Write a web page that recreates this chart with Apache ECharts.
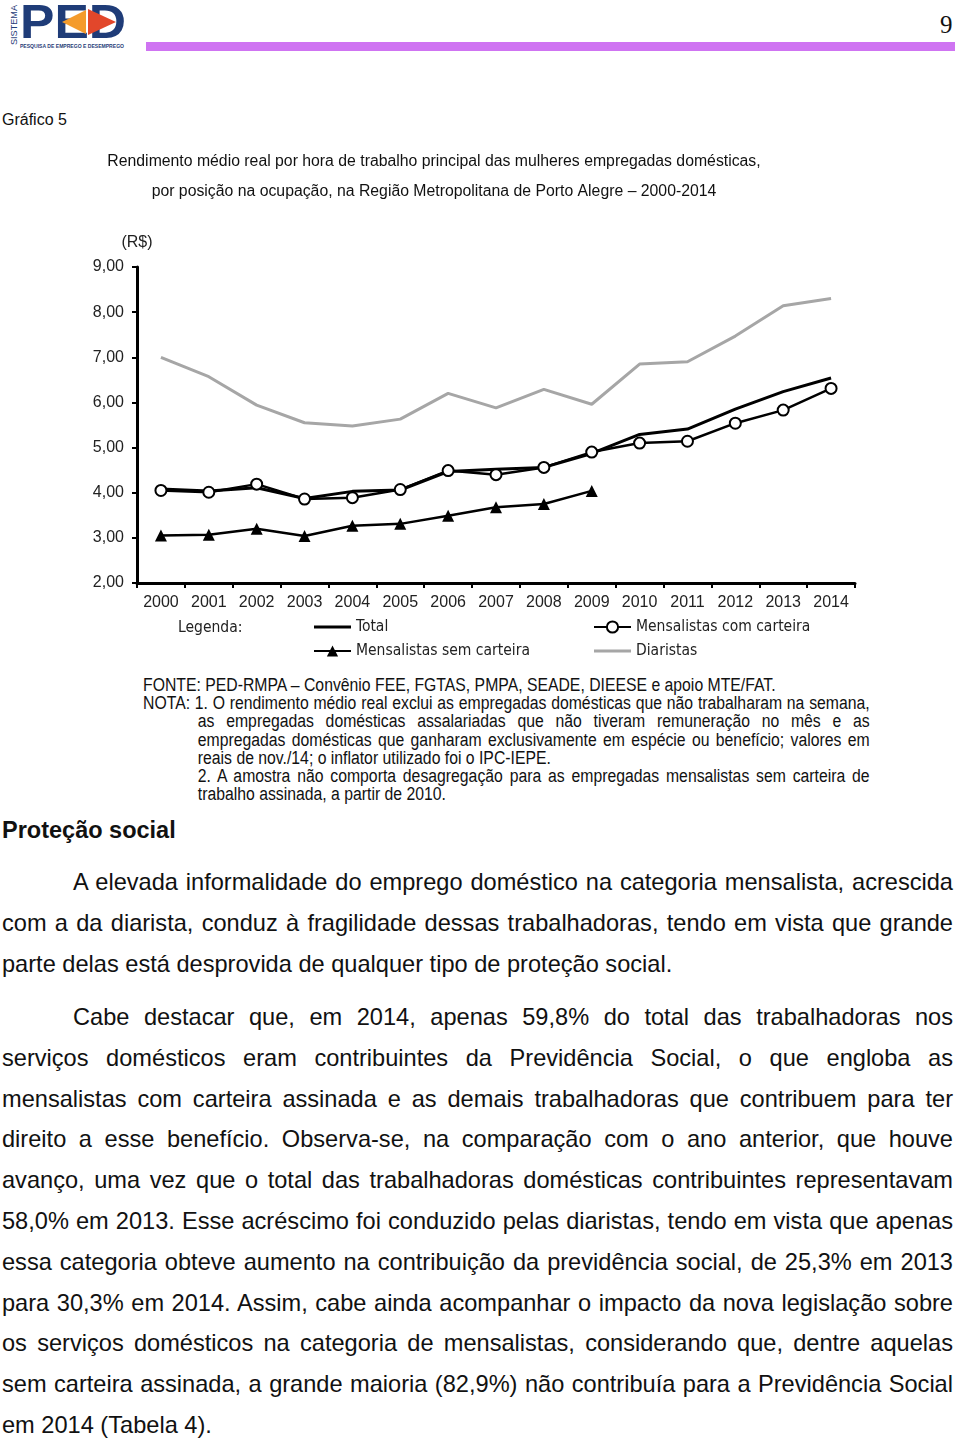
<!DOCTYPE html>
<html>
<head>
<meta charset="utf-8">
<script src="https://cdn.jsdelivr.net/npm/echarts@6/dist/echarts.min.js"></script>
<style>
  html, body { margin: 0; padding: 0; background: #fff; }
  body { width: 960px; height: 1442px; position: relative; overflow: hidden; font-family: 'Liberation Sans', Arial, sans-serif; color: #111; }
  #chart { position: absolute; left: 0; top: 0; width: 960px; height: 670px; }
  .abs { position: absolute; }
  .notes { left: 143px; top: 676px; width: 822px; font-size: 17.85px; line-height: 18.2px; color: #111;
           transform: scaleX(0.884); transform-origin: 0 0; font-family: 'Liberation Sans', Arial, sans-serif; }
  .notes div { white-space: nowrap; }
  .notes .j { text-align: justify; text-align-last: justify; }
  .notes .ind { padding-left: 62px; }
  .body { left: 2px; width: 951px; font-size: 23.6px; line-height: 40.8px; color: #111; }
  .body div { white-space: nowrap; }
  .body .j { text-align: justify; text-align-last: justify; }
  .body .ind { text-indent: 71px; }
</style>
</head>
<body>
<svg class="abs" style="left:0;top:0" width="960" height="60">
  <text x="0" y="0" transform="translate(17,45) rotate(-90)" font-family="Liberation Sans, Arial" font-size="8.5" fill="#1f3c78" textLength="40" lengthAdjust="spacingAndGlyphs">SISTEMA</text>
  <text x="20" y="38" font-family="Liberation Sans, Arial" font-weight="bold" font-size="48" fill="#1f3c78" textLength="106" lengthAdjust="spacingAndGlyphs">PED</text>
  <polygon points="62,22 86,10 86,34" fill="#f49b2c"/>
  <polygon points="88,9 116,22 88,35" fill="#e2472b"/>
  <text x="20" y="47.5" font-family="Liberation Sans, Arial" font-weight="bold" font-size="6" fill="#1f3c78" textLength="104" lengthAdjust="spacingAndGlyphs">PESQUISA DE EMPREGO E DESEMPREGO</text>
  <rect x="146" y="42" width="809" height="9" fill="#cf74f2"/>
  <text x="940" y="33" font-family="Liberation Serif, DejaVu Serif, serif" font-size="25" fill="#111">9</text>
</svg>

<div class="abs" style="left:2px;top:111px;font-size:16px;">Gráfico 5</div>

<div id="chart"></div>

<div class="abs notes">
  <div>FONTE: PED-RMPA – Convênio FEE, FGTAS, PMPA, SEADE, DIEESE e apoio MTE/FAT.</div>
  <div class="j">NOTA: 1. O rendimento médio real exclui as empregadas domésticas que não trabalharam na semana,</div>
  <div class="j ind">as empregadas domésticas assalariadas que não tiveram remuneração no mês e as</div>
  <div class="j ind">empregadas domésticas que ganharam exclusivamente em espécie ou benefício; valores em</div>
  <div class="ind">reais de nov./14; o inflator utilizado foi o IPC-IEPE.</div>
  <div class="j ind">2. A amostra não comporta desagregação para as empregadas mensalistas sem carteira de</div>
  <div class="ind">trabalho assinada, a partir de 2010.</div>
</div>

<div class="abs" style="left:2px;top:817px;font-size:23.5px;font-weight:bold;">Proteção social</div>

<div class="abs body" style="top:862px;">
  <div class="j ind">A elevada informalidade do emprego doméstico na categoria mensalista, acrescida</div>
  <div class="j">com a da diarista, conduz à fragilidade dessas trabalhadoras, tendo em vista que grande</div>
  <div>parte delas está desprovida de qualquer tipo de proteção social.</div>
</div>

<div class="abs body" style="top:997px;">
  <div class="j ind">Cabe destacar que, em 2014, apenas 59,8% do total das trabalhadoras nos</div>
  <div class="j">serviços domésticos eram contribuintes da Previdência Social, o que engloba as</div>
  <div class="j">mensalistas com carteira assinada e as demais trabalhadoras que contribuem para ter</div>
  <div class="j">direito a esse benefício. Observa-se, na comparação com o ano anterior, que houve</div>
  <div class="j">avanço, uma vez que o total das trabalhadoras domésticas contribuintes representavam</div>
  <div class="j">58,0% em 2013. Esse acréscimo foi conduzido pelas diaristas, tendo em vista que apenas</div>
  <div class="j">essa categoria obteve aumento na contribuição da previdência social, de 25,3% em 2013</div>
  <div class="j">para 30,3% em 2014. Assim, cabe ainda acompanhar o impacto da nova legislação sobre</div>
  <div class="j">os serviços domésticos na categoria de mensalistas, considerando que, dentre aquelas</div>
  <div class="j">sem carteira assinada, a grande maioria (82,9%) não contribuía para a Previdência Social</div>
  <div>em 2014 (Tabela 4).</div>
</div>

<script>
// ---- data ----
var years = ['2000','2001','2002','2003','2004','2005','2006','2007','2008','2009','2010','2011','2012','2013','2014'];
var total = [4.08, 4.04, 4.11, 3.87, 4.03, 4.06, 4.47, 4.52, 4.56, 4.87, 5.29, 5.41, 5.85, 6.24, 6.54];
var mensalistasComCarteira = [4.05, 4.01, 4.19, 3.86, 3.89, 4.07, 4.49, 4.40, 4.56, 4.90, 5.10, 5.14, 5.54, 5.83, 6.31];
var mensalistasSemCarteira = [3.05, 3.07, 3.20, 3.04, 3.27, 3.31, 3.49, 3.68, 3.75, 4.04, null, null, null, null, null];
var diaristas = [7.00, 6.57, 5.94, 5.55, 5.48, 5.63, 6.20, 5.88, 6.29, 5.96, 6.85, 6.90, 7.47, 8.14, 8.30];
var seriesNames = ['Total', 'Mensalistas com carteira', 'Mensalistas sem carteira', 'Diaristas'];
var titleLines = [
  'Rendimento médio real por hora de trabalho principal das mulheres empregadas domésticas,',
  'por posição na ocupação, na Região Metropolitana de Porto Alegre – 2000-2014'
];
var yUnit = '(R$)';

var chart = echarts.init(document.getElementById('chart'), null, { renderer: 'canvas' });
var FONT = "'Liberation Sans', Arial, sans-serif";
var NARROW = "'DejaVu Sans Condensed', 'Liberation Sans Narrow', sans-serif";
var LINE_ICON = 'path://M0,0 M0,5.5 L40,5.5 L40,8.5 L0,8.5 Z M40,14';

var option = {
  animation: false,
  backgroundColor: 'transparent',
  graphic: [
    { type: 'text', x: 434, y: 154, style: { text: titleLines[0], font: '15.8px ' + FONT, fill: '#111', textAlign: 'center' } },
    { type: 'text', x: 434, y: 184, style: { text: titleLines[1], font: '15.8px ' + FONT, fill: '#111', textAlign: 'center' } },
    { type: 'text', x: 178, y: 620, style: { text: 'Legenda:', font: '15.5px ' + NARROW, fill: '#222' } }
  ],
  grid: { left: 137, top: 267, width: 718, height: 316, containLabel: false },
  legend: [
    {
      orient: 'vertical', left: 313, top: 619, padding: 0, itemGap: 8, itemWidth: 37, itemHeight: 14,
      data: [{ name: seriesNames[0], icon: LINE_ICON }, seriesNames[2]],
      textStyle: { fontFamily: NARROW, fontSize: 15.5, color: '#222' }
    },
    {
      orient: 'vertical', left: 593, top: 619, padding: 0, itemGap: 8, itemWidth: 37, itemHeight: 14,
      data: [seriesNames[1], { name: seriesNames[3], icon: LINE_ICON }],
      textStyle: { fontFamily: NARROW, fontSize: 15.5, color: '#222' }
    }
  ],
  xAxis: {
    type: 'category', data: years, boundaryGap: true,
    axisLine: { lineStyle: { color: '#000', width: 3 } },
    axisTick: { show: true, interval: 0, length: 5, lineStyle: { color: '#000', width: 2 } },
    axisLabel: { interval: 0, margin: 12, fontFamily: FONT, fontSize: 16, color: '#222' },
    splitLine: { show: false }
  },
  yAxis: {
    type: 'value', min: 2, max: 9, interval: 1,
    name: yUnit, nameLocation: 'end', nameGap: 16,
    nameTextStyle: { fontFamily: FONT, fontSize: 16, color: '#222', align: 'center' },
    axisLine: { show: true, lineStyle: { color: '#000', width: 3 } },
    axisTick: { show: true, length: 5, lineStyle: { color: '#000', width: 2 } },
    axisLabel: { margin: 13, fontFamily: FONT, fontSize: 16, color: '#222',
      formatter: function (v) { return v.toFixed(2).replace('.', ','); } },
    splitLine: { show: false }
  },
  series: [
    { name: seriesNames[3], type: 'line', data: diaristas, symbol: 'none', z: 1,
      lineStyle: { color: '#a6a6a6', width: 3 }, itemStyle: { color: '#a6a6a6' } },
    { name: seriesNames[0], type: 'line', data: total, symbol: 'none', z: 2,
      lineStyle: { color: '#000', width: 3 }, itemStyle: { color: '#000' } },
    { name: seriesNames[2], type: 'line', data: mensalistasSemCarteira, symbol: 'triangle', symbolSize: 12, z: 3,
      lineStyle: { color: '#000', width: 2.5 }, itemStyle: { color: '#000' } },
    { name: seriesNames[1], type: 'line', data: mensalistasComCarteira, symbol: 'circle', symbolSize: 11, z: 4,
      lineStyle: { color: '#000', width: 2.5 }, itemStyle: { color: '#fff', borderColor: '#000', borderWidth: 2 } }
  ]
};
chart.setOption(option);
</script>
</body>
</html>
